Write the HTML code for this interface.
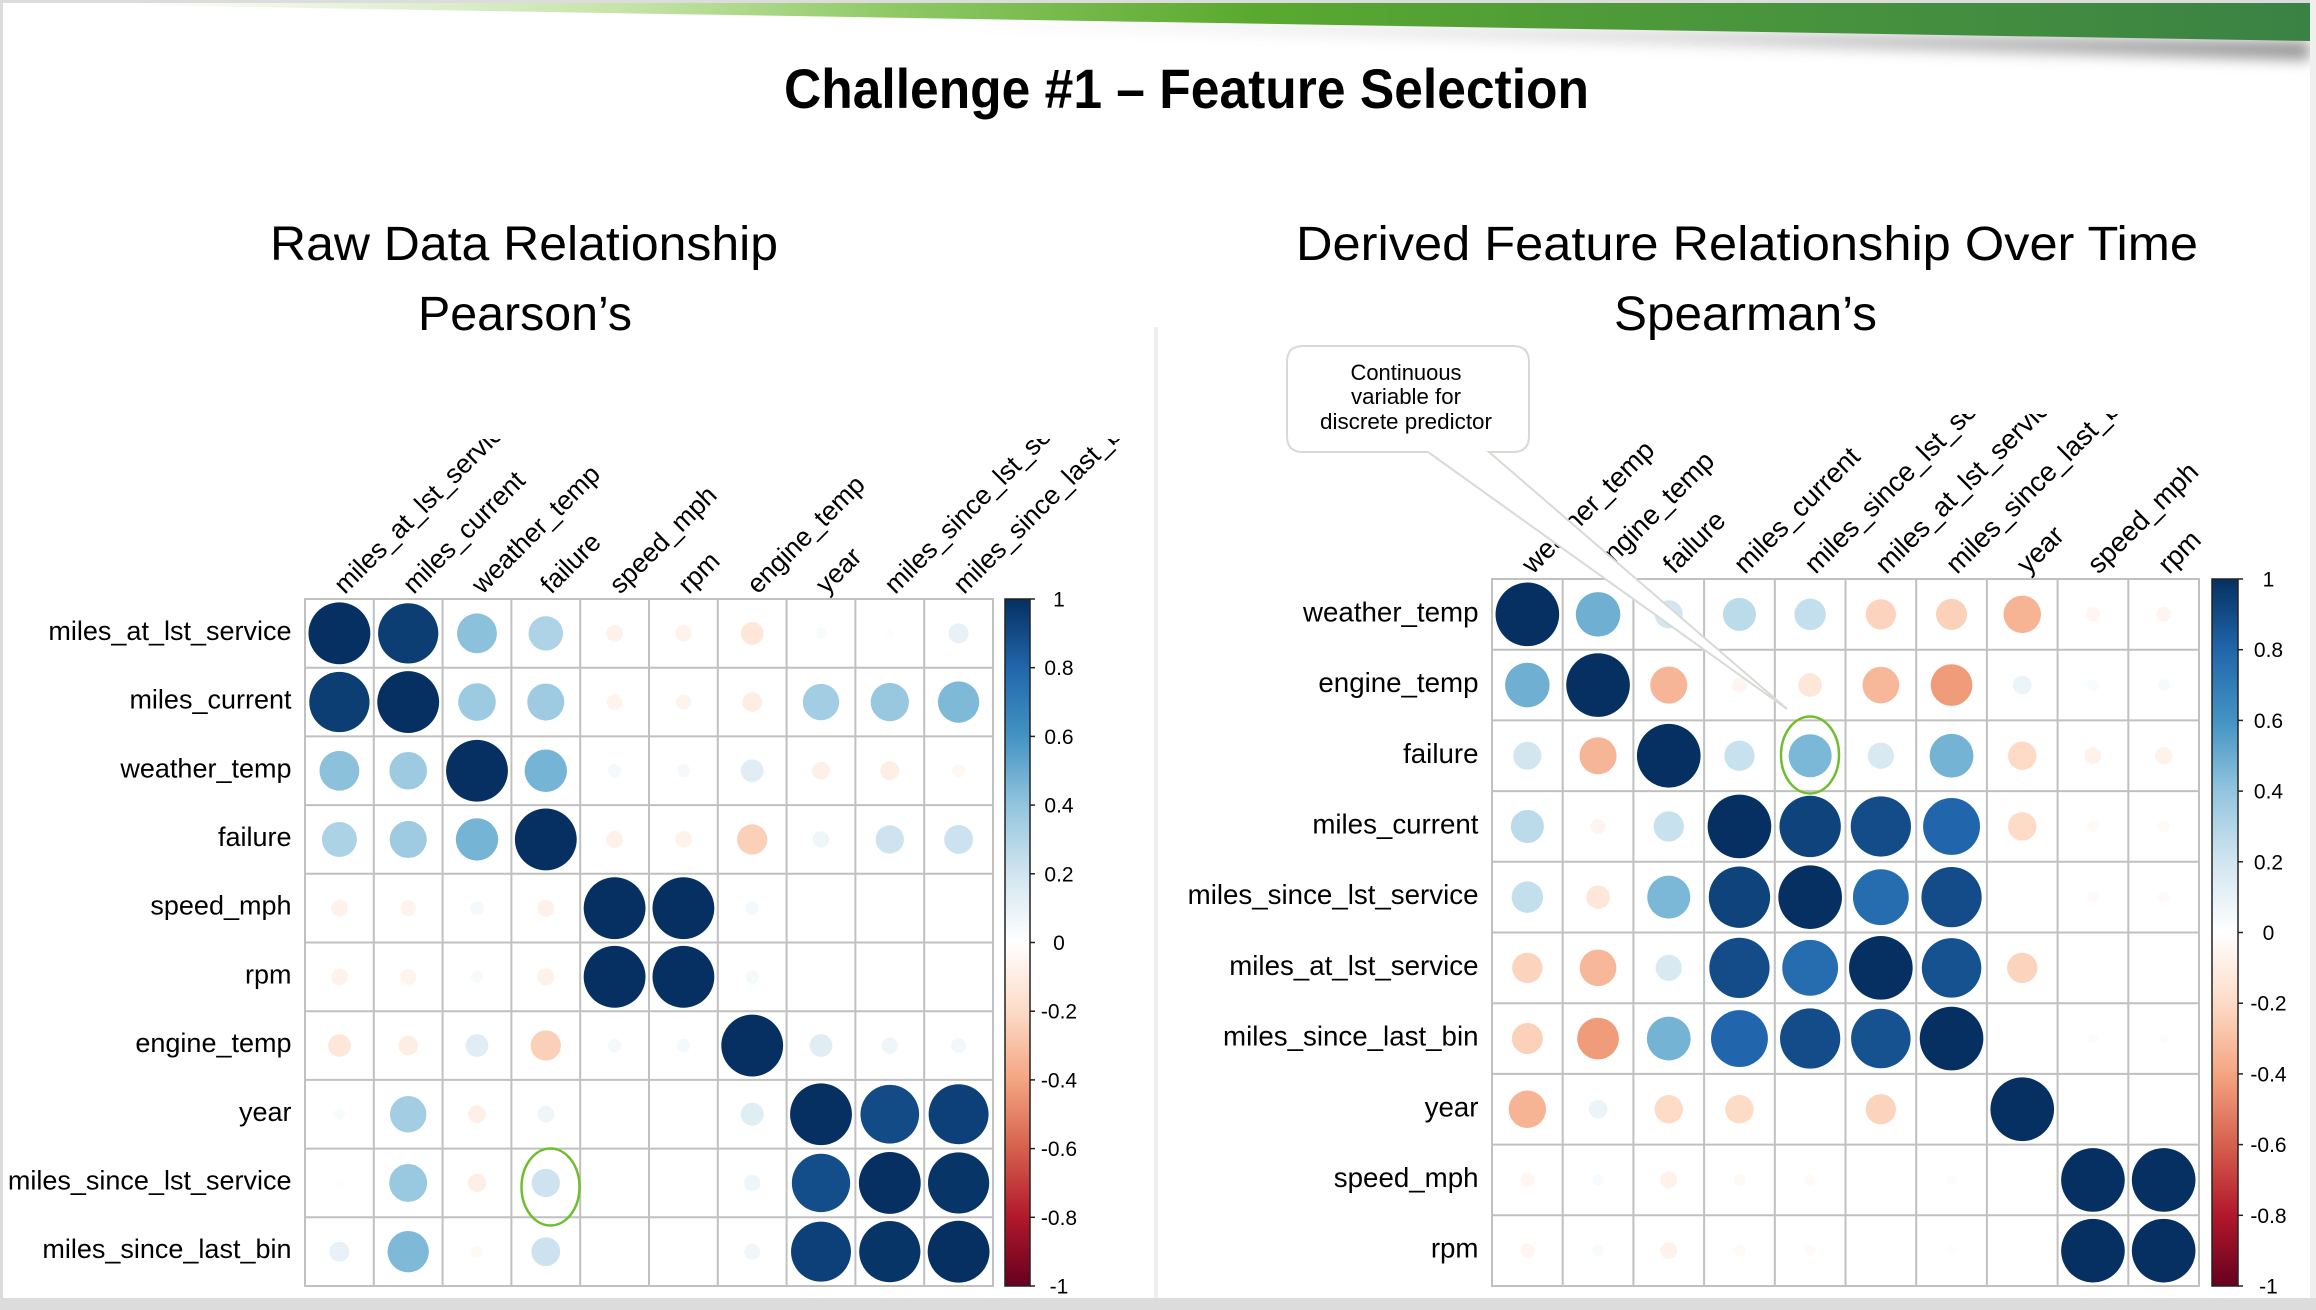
<!DOCTYPE html>
<html lang="en">
<head>
<meta charset="utf-8">
<title>Challenge #1 – Feature Selection</title>
<style>
html,body{margin:0;padding:0;background:#dcdcdc;}
svg{display:block;}
text{font-family:"Liberation Sans",sans-serif;fill:#000;}
</style>
</head>
<body>
<svg id="slide" xmlns="http://www.w3.org/2000/svg" width="2316" height="1310" viewBox="0 0 2316 1310">
  <defs>
    <linearGradient id="bannerFill" gradientUnits="userSpaceOnUse" x1="130" y1="0" x2="2310" y2="0">
      <stop offset="0" stop-color="#ffffff"/>
      <stop offset="0.12" stop-color="#e2f0d6"/>
      <stop offset="0.23" stop-color="#c5e3a6"/>
      <stop offset="0.35" stop-color="#8fc965"/>
      <stop offset="0.515" stop-color="#5aa92f"/>
      <stop offset="0.73" stop-color="#4a963c"/>
      <stop offset="1" stop-color="#3a8244"/>
    </linearGradient>
    <linearGradient id="shadowFill" gradientUnits="userSpaceOnUse" x1="900" y1="0" x2="2310" y2="0">
      <stop offset="0" stop-color="#000" stop-opacity="0"/>
      <stop offset="0.55" stop-color="#000" stop-opacity="0.16"/>
      <stop offset="1" stop-color="#000" stop-opacity="0.42"/>
    </linearGradient>
    <filter id="shadowBlur" x="-5%" y="-100%" width="110%" height="400%">
      <feGaussianBlur stdDeviation="7"/>
    </filter>
    <clipPath id="slideClip"><rect x="3" y="3" width="2307" height="1295"/></clipPath>
    <clipPath id="leftLabelClip"><rect x="200" y="439" width="960" height="160"/></clipPath>
    <clipPath id="rightLabelClip"><rect x="1400" y="414" width="900" height="165"/></clipPath>
  </defs>

  <rect x="0" y="0" width="2316" height="1310" fill="#dcdcdc"/>
  <rect x="2310" y="0" width="6" height="1298" fill="#efefef"/>
  <rect x="3" y="3" width="2307" height="1295" fill="#ffffff"/>

  <g clip-path="url(#slideClip)">
    <polygon points="900,18 2310,41 2310,60 900,24" fill="url(#shadowFill)" filter="url(#shadowBlur)"/>
    <polygon points="0,3 2310,3 2310,41" fill="url(#bannerFill)"/>
  </g>

  <text x="784" y="108" font-size="56" font-weight="700" fill="#111" textLength="805" lengthAdjust="spacingAndGlyphs">Challenge #1 – Feature Selection</text>

  <text x="270" y="260" font-size="48" textLength="508" lengthAdjust="spacingAndGlyphs">Raw Data Relationship</text>
  <text x="418" y="330" font-size="48" textLength="214" lengthAdjust="spacingAndGlyphs">Pearson’s</text>
  <text x="1296" y="260" font-size="48" textLength="902" lengthAdjust="spacingAndGlyphs">Derived Feature Relationship Over Time</text>
  <text x="1614" y="330" font-size="48" textLength="263" lengthAdjust="spacingAndGlyphs">Spearman’s</text>

  <rect x="1154" y="327" width="4" height="971" fill="#efefef"/>

  <g id="leftChart"></g>
  <g id="rightChart"></g>

  <path d="M1303 346 H1513 Q1529 346 1529 362 V436 Q1529 452 1513 452 H1489 L1787 709 L1428 452 H1303 Q1287 452 1287 436 V362 Q1287 346 1303 346 Z" fill="#ffffff" stroke="#d9d9d6" stroke-width="2"/>
  <text x="1406" y="380" font-size="22" text-anchor="middle" fill="#111" textLength="111" lengthAdjust="spacingAndGlyphs">Continuous</text>
  <text x="1406" y="404" font-size="22" text-anchor="middle" fill="#111" textLength="110" lengthAdjust="spacingAndGlyphs">variable for</text>
  <text x="1406" y="429" font-size="22" text-anchor="middle" fill="#111" textLength="172" lengthAdjust="spacingAndGlyphs">discrete predictor</text>

  <ellipse cx="550.5" cy="1187" rx="29" ry="38.5" fill="none" stroke="#6fbe2c" stroke-width="2.5"/>
  <ellipse cx="1810" cy="755" rx="29" ry="38.5" fill="none" stroke="#6fbe2c" stroke-width="2.5"/>
</svg>

<script>
const pearsonLabels = ["miles_at_lst_service","miles_current","weather_temp","failure","speed_mph","rpm","engine_temp","year","miles_since_lst_service","miles_since_last_bin"];
const pearsonRow1 = [1,0.95,0.415,0.31,-0.073,-0.07,-0.135,0.034,0.018,0.105];
const pearsonRow2 = [0.95,1,0.37,0.36,-0.063,-0.06,-0.1,0.347,0.384,0.447];
const pearsonRow3 = [0.415,0.37,1,0.47,0.049,0.045,0.135,-0.083,-0.094,-0.046];
const pearsonRow4 = [0.32,0.36,0.47,1,-0.076,-0.073,-0.24,0.07,0.21,0.217];
const pearsonRow5 = [-0.073,-0.066,0.049,-0.076,1,1,0.049,0,0,0];
const pearsonRow6 = [-0.073,-0.066,0.04,-0.076,1,1,0.046,0.004,0.003,0];
const pearsonRow7 = [-0.135,-0.1,0.135,-0.24,0.049,0.046,1,0.135,0.07,0.06];
const pearsonRow8 = [0.034,0.347,-0.083,0.073,0.003,0.003,0.14,1,0.9,0.94];
const pearsonRow9 = [0.018,0.377,-0.09,0.21,0.002,0,0.07,0.89,1,0.98];
const pearsonRow10 = [0.105,0.447,-0.035,0.217,0,0,0.066,0.94,0.98,1];
const pearsonValues = [pearsonRow1,pearsonRow2,pearsonRow3,pearsonRow4,pearsonRow5,pearsonRow6,pearsonRow7,pearsonRow8,pearsonRow9,pearsonRow10];

const spearmanLabels = ["weather_temp","engine_temp","failure","miles_current","miles_since_lst_service","miles_at_lst_service","miles_since_last_bin","year","speed_mph","rpm"];
const spearmanRow1 = [1,0.49,0.195,0.27,0.244,-0.227,-0.238,-0.346,-0.05,-0.053];
const spearmanRow2 = [0.49,1,-0.34,-0.055,-0.137,-0.332,-0.43,0.086,0.033,0.035];
const spearmanRow3 = [0.195,-0.34,1,0.227,0.458,0.17,0.474,-0.2,-0.07,-0.073];
const spearmanRow4 = [0.27,-0.055,0.227,1,0.93,0.897,0.8,-0.2,-0.033,-0.036];
const spearmanRow5 = [0.244,-0.137,0.458,0.93,1,0.77,0.897,0.002,-0.03,-0.03];
const spearmanRow6 = [-0.227,-0.332,0.17,0.897,0.77,1,0.875,-0.227,0.002,0.002];
const spearmanRow7 = [-0.238,-0.43,0.474,0.8,0.897,0.875,1,0.003,-0.023,-0.02];
const spearmanRow8 = [-0.346,0.086,-0.2,-0.2,0.002,-0.227,0.002,1,0.004,0];
const spearmanRow9 = [-0.05,0.033,-0.07,-0.033,-0.03,0.002,-0.023,0.004,1,1];
const spearmanRow10 = [-0.05,0.033,-0.07,-0.033,-0.03,0.002,-0.02,0,1,1];
const spearmanValues = [spearmanRow1,spearmanRow2,spearmanRow3,spearmanRow4,spearmanRow5,spearmanRow6,spearmanRow7,spearmanRow8,spearmanRow9,spearmanRow10];

const colorbarTicks = [1,0.8,0.6,0.4,0.2,0,-0.2,-0.4,-0.6,-0.8,-1];
const paletteStops = ["#67001F","#B2182B","#D6604D","#F4A582","#FDDBC7","#FFFFFF","#D1E5F0","#92C5DE","#4393C3","#2166AC","#053061"];

const SVGNS = "http://www.w3.org/2000/svg";

function hexRgb(h){
  return [parseInt(h.slice(1,3),16),parseInt(h.slice(3,5),16),parseInt(h.slice(5,7),16)];
}
function colorFor(v){
  const t = (Math.max(-1,Math.min(1,v))+1)/2*(paletteStops.length-1);
  const i = Math.min(paletteStops.length-2,Math.floor(t));
  const f = t-i;
  const a = hexRgb(paletteStops[i]), b = hexRgb(paletteStops[i+1]);
  return "rgb("+a.map(function(c,k){return Math.round(c+(b[k]-c)*f);}).join(",")+")";
}
function make(tag,attrs,parent){
  const el = document.createElementNS(SVGNS,tag);
  for(const k in attrs){el.setAttribute(k,attrs[k]);}
  parent.appendChild(el);
  return el;
}

function drawMatrix(root,labels,values,cfg){
  const n = labels.length;
  const cellW = (cfg.right-cfg.left)/n;
  const cellH = (cfg.bottom-cfg.top)/n;
  const xScale = function(col){return cfg.left+cellW*(col+0.5);};
  const yScale = function(row){return cfg.top+cellH*(row+0.5);};
  const radius = function(v){return 0.45*Math.min(cellW,cellH)*Math.sqrt(Math.abs(v));};
  const barY = function(v){return cfg.top+(1-v)/2*(cfg.bottom-cfg.top);};

  for(let i=0;i<=n;i++){
    const v = make("line",{x1:cfg.left+cellW*i,x2:cfg.left+cellW*i,y1:cfg.top-1,y2:cfg.bottom+1,stroke:"#c0c0c0","stroke-width":2},root);
    
    
    const h = make("line",{x1:cfg.left-1,x2:cfg.right+1,y1:cfg.top+cellH*i,y2:cfg.top+cellH*i,stroke:"#c0c0c0","stroke-width":2},root);
    
    
  }

  labels.forEach(function(label,row){
    const t = make("text",{x:cfg.labelRight,y:yScale(row)+cfg.rowBase,"font-size":cfg.rowFont,"text-anchor":"end",fill:"#111"},root);
    t.textContent = label;
    
    
  });

  const colGroup = make("g",{"clip-path":"url(#"+cfg.clip+")"},root);
  
  
  labels.forEach(function(label,col){
    const x = xScale(col)+5.5, y = cfg.top-4;
    const t = make("text",{x:x,y:y,"font-size":cfg.colFont,fill:"#111",transform:"rotate(-45 "+x+" "+y+")"},colGroup);
    t.textContent = label;
    
    
  });

  values.forEach(function(rowVals,row){
    rowVals.forEach(function(v,col){
      const c = make("circle",{cx:xScale(col),cy:yScale(row),r:radius(v),fill:colorFor(v)},root);
      
      
    });
  });

  const gid = cfg.clip+"Bar";
  const defs = make("defs",{},root);
  const grad = make("linearGradient",{id:gid,x1:0,y1:1,x2:0,y2:0},defs);
  paletteStops.forEach(function(col,i){
    make("stop",{offset:i/(paletteStops.length-1),"stop-color":col},grad);
  });
  const bar = make("rect",{x:cfg.barLeft,y:cfg.top,width:cfg.barRight-cfg.barLeft,height:cfg.bottom-cfg.top,fill:"url(#"+gid+")",stroke:"#222","stroke-width":1.5},root);
  
  

  colorbarTicks.forEach(function(v){
    const y = barY(v);
    const tick = make("line",{x1:cfg.barRight,x2:cfg.barRight+5,y1:y,y2:y,stroke:"#222","stroke-width":1.5},root);
    
    
    const t = make("text",{x:cfg.barLabel,y:y+7.5,"font-size":21,"text-anchor":"middle",fill:"#111"},root);
    t.textContent = String(v);
    
    
  });
}

drawMatrix(document.getElementById("leftChart"),pearsonLabels,pearsonValues,{
  left:305,right:993,top:599,bottom:1286,labelRight:291.5,rowBase:6.5,rowFont:27,colFont:26.6,clip:"leftLabelClip",
  barLeft:1005,barRight:1030,barLabel:1059
});
drawMatrix(document.getElementById("rightChart"),spearmanLabels,spearmanValues,{
  left:1492,right:2199,top:579,bottom:1286,labelRight:1478.5,rowBase:7,rowFont:27.7,colFont:27.5,clip:"rightLabelClip",
  barLeft:2212,barRight:2238,barLabel:2268.5
});
</script>
</body>
</html>
